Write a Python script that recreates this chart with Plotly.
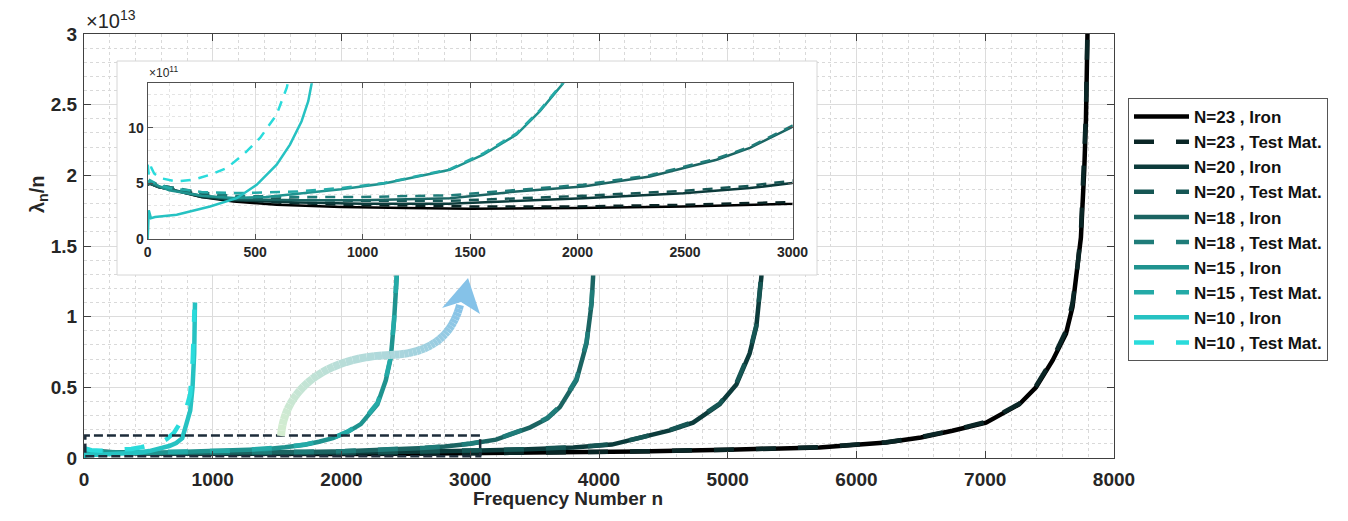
import plotly.graph_objects as go

# the page has an 8px body margin, so the figure is drawn from (8, 8)
OFF = 8
W, H = 1348 - 2 * OFF, 521 - 2 * OFF

# values are lambda_n / n in units of 1e11
n23_x = [0, 10, 50, 100, 250, 400, 600, 900, 1200, 1500, 2000, 2500, 3000, 3700, 4300, 5000, 5712,
         6230, 6500, 6745, 7006, 7265, 7394, 7523, 7627, 7678, 7717, 7743, 7769, 7782, 7794, 7800]
n23_iron = [4.9, 5.0, 4.7, 4.5, 3.8, 3.4, 3.1, 2.9, 2.8, 2.75, 2.8, 2.95, 3.2, 3.8, 4.6, 5.8, 7.5,
            11, 14.5, 19.3, 25, 38, 50, 69, 88, 107, 133, 156, 204, 239, 300, 330]
n23_test = [5.0, 5.1, 4.8, 4.6, 4.0, 3.6, 3.3, 3.1, 3.0, 2.95, 2.95, 3.1, 3.35, 3.9, 4.7, 5.9, 7.6,
            11.2, 14.8, 19.6, 25.5, 38.5, 51, 70, 90, 110, 136, 160, 208, 244, 305, 335]

n20_x = [0, 10, 50, 100, 250, 400, 700, 1000, 1400, 2026, 2492, 2802, 3000, 3400, 3800, 4100, 4342,
         4550, 4730, 4937, 5067, 5170, 5222, 5247, 5261, 5280, 5295]
n20_iron = [4.9, 5.0, 4.7, 4.5, 3.8, 3.5, 3.3, 3.2, 3.2, 3.69, 4.14, 4.6, 5.05, 6.0, 7.4, 9.5, 14.6,
            19.5, 25, 38, 52, 74, 93, 114, 128, 170, 230]
n20_test = [5.0, 5.2, 4.9, 4.7, 4.05, 3.75, 3.55, 3.45, 3.45, 3.9, 4.35, 4.8, 5.25, 6.2, 7.6, 9.7, 14.9,
            19.8, 25.5, 38.5, 53, 75, 94, 116, 130, 172, 232]

n18_x = [0, 10, 50, 100, 250, 400, 700, 1000, 1406, 1716, 2026, 2337, 2492, 2647, 2802, 3000, 3200,
         3466, 3600, 3696, 3825, 3903, 3942, 3954, 3970, 3985]
n18_iron = [4.9, 5.0, 4.7, 4.5, 3.9, 3.6, 3.5, 3.5, 3.69, 4.29, 4.74, 5.64, 6.4, 7.14, 8.2, 10.1, 13,
            21.7, 28, 36, 55, 81, 109, 128, 170, 230]
n18_test = [5.0, 5.2, 4.9, 4.7, 4.2, 3.9, 3.8, 3.8, 3.95, 4.45, 4.9, 5.75, 6.5, 7.25, 8.3, 10.2, 13.2,
            22, 28.5, 36.5, 56, 82, 110, 130, 172, 232]

n15_x = [0, 10, 50, 100, 250, 400, 550, 700, 900, 1100, 1250, 1406, 1561, 1716, 1825, 1933, 2050, 2150,
         2279, 2344, 2383, 2408, 2429, 2445, 2460]
n15_iron = [5.1, 5.2, 4.8, 4.4, 3.9, 3.7, 3.8, 4.1, 4.5, 5.0, 5.6, 6.24, 7.6, 9.4, 11.5, 14, 18.5, 24,
            38, 55, 71, 97, 128, 170, 230]
n15_test = [5.0, 5.3, 4.9, 4.6, 4.25, 4.15, 4.2, 4.3, 4.6, 5.05, 5.65, 6.3, 7.7, 9.5, 11.6, 14.1, 18.8, 24.5,
            39, 56, 72, 98, 130, 172, 232]

n10_iron_x = [0, 5, 15, 34, 135, 290, 414, 507, 600, 662, 716, 747, 763, 776, 800, 825, 843, 856, 862]
n10_iron = [0, 2.6, 1.9, 2.0, 2.2, 2.94, 3.69, 4.89, 6.69, 8.5, 10.6, 12.4, 14, 18, 25, 33.5, 50, 74, 110]
n10_test_x = [0, 5, 15, 30, 57, 135, 212, 290, 367, 445, 523, 600, 647, 700, 776, 825, 845, 858]
n10_test = [6.7, 5.8, 6.5, 5.9, 5.5, 5.19, 5.34, 5.79, 6.39, 7.6, 9.1, 11.2, 13.6, 18, 29, 45, 70, 105]

series = [
    ('N=23 , Iron', n23_x, n23_iron, '#000000', 'solid'),
    ('N=23 , Test Mat.', n23_x, n23_test, '#0a2626', 'dash'),
    ('N=20 , Iron', n20_x, n20_iron, '#0c3b3b', 'solid'),
    ('N=20 , Test Mat.', n20_x, n20_test, '#165654', 'dash'),
    ('N=18 , Iron', n18_x, n18_iron, '#1b6462', 'solid'),
    ('N=18 , Test Mat.', n18_x, n18_test, '#1f7c79', 'dash'),
    ('N=15 , Iron', n15_x, n15_iron, '#1f938f', 'solid'),
    ('N=15 , Test Mat.', n15_x, n15_test, '#24aaa7', 'dash'),
    ('N=10 , Iron', n10_iron_x, n10_iron, '#26c2c2', 'solid'),
    ('N=10 , Test Mat.', n10_test_x, n10_test, '#2adbdb', 'dash'),
]

fig = go.Figure()

# main plot (y in units of 1e13)
for name, xs, vs, color, dash in series:
    fig.add_trace(go.Scatter(
        x=xs, y=[v / 100 for v in vs], name=name, mode='lines',
        line=dict(color=color, width=4.5, dash='20px,22px' if dash == 'dash' else 'solid'),
        xaxis='x', yaxis='y', hoverinfo='skip'))

# white frame behind the inset
fig.add_trace(go.Scatter(
    x=[0, 1, 1, 0, 0], y=[0, 0, 1, 1, 0], fill='toself', fillcolor='white',
    mode='lines', line=dict(width=0), showlegend=False, hoverinfo='skip',
    xaxis='x2', yaxis='y2'))

# inset (y in units of 1e11)
for name, xs, vs, color, dash in series:
    fig.add_trace(go.Scatter(
        x=xs, y=vs, name=name, mode='lines', showlegend=False,
        line=dict(color=color, width=2.5, dash='10px,8px' if dash == 'dash' else 'solid'),
        xaxis='x3', yaxis='y3', hoverinfo='skip'))


def px(x, y):
    # screen pixel -> paper fraction
    return (x - OFF) / W, 1 - (y - OFF) / H


def dom_x(a, b):
    return [px(a, 0)[0], px(b, 0)[0]]


def dom_y(bottom, top):
    return [px(0, bottom)[1], px(0, top)[1]]


tick_font = dict(family='Liberation Sans', size=19, color='#262626', weight='bold')
inset_font = dict(family='Liberation Sans', size=14, color='#262626', weight='bold')

fig.update_layout(
    width=W, height=H,
    margin=dict(l=0, r=0, t=0, b=0, autoexpand=False),
    paper_bgcolor='white', plot_bgcolor='white',
    showlegend=True,
    legend=dict(x=px(1128, 98)[0], y=px(1128, 98)[1], xanchor='left', yanchor='top',
                bgcolor='white', bordercolor='#555555', borderwidth=1,
                font=dict(family='Liberation Sans', size=17, color='#111111', weight='bold'),
                itemwidth=55, tracegroupgap=0),
    xaxis=dict(domain=dom_x(84, 1114), range=[0, 8000], tick0=0, dtick=1000, automargin=False,
               showline=True, mirror='ticks', linecolor='#404040', linewidth=1,
               ticks='inside', ticklen=7, tickcolor='#404040', ticklabelstandoff=4,
               showgrid=True, gridcolor='#dcdcdc', zeroline=False, tickfont=tick_font,
               minor=dict(tick0=0, dtick=200, showgrid=True, gridcolor='#d9d9d9', griddash='dot'),
               anchor='y'),
    yaxis=dict(domain=dom_y(458, 34), range=[0, 3], tick0=0, dtick=0.5, automargin=False,
               showline=True, mirror='ticks', linecolor='#404040', linewidth=1,
               ticks='inside', ticklen=7, tickcolor='#404040', ticklabelstandoff=2,
               showgrid=True, gridcolor='#dcdcdc', zeroline=False, tickfont=tick_font,
               minor=dict(tick0=0, dtick=0.1, showgrid=True, gridcolor='#d9d9d9', griddash='dot'),
               anchor='x'),
    xaxis2=dict(domain=dom_x(117, 817), range=[0, 1], visible=False, fixedrange=True,
                automargin=False, anchor='y2'),
    yaxis2=dict(domain=dom_y(275, 61), range=[0, 1], visible=False, fixedrange=True,
                automargin=False, anchor='x2'),
    xaxis3=dict(domain=dom_x(147.7, 792.5), range=[0, 3000], tick0=0, dtick=500, automargin=False,
                showline=True, mirror='ticks', linecolor='#505050', linewidth=1,
                ticks='inside', ticklen=5, tickcolor='#505050',
                showgrid=True, gridcolor='#dedede', zeroline=False, tickfont=inset_font,
                minor=dict(tick0=0, dtick=100, showgrid=True, gridcolor='#e4e4e4', griddash='dot'),
                anchor='y3'),
    yaxis3=dict(domain=dom_y(239.3, 83.3), range=[0, 14], tickvals=[0, 5, 10], automargin=False,
                showline=True, mirror='ticks', linecolor='#505050', linewidth=1,
                ticks='inside', ticklen=5, tickcolor='#505050',
                showgrid=True, gridcolor='#dedede', zeroline=False, tickfont=inset_font,
                minor=dict(tick0=0, dtick=1, showgrid=True, gridcolor='#e4e4e4', griddash='dot'),
                anchor='x3'),
)

# frame border of the inset
fx0, fy0 = px(117, 275)
fx1, fy1 = px(817, 61)
fig.add_shape(type='rect', xref='paper', yref='paper', x0=fx0, y0=fy0, x1=fx1, y1=fy1,
              line=dict(color='#d6d6d6', width=1), layer='above')

# dashed zoom box on the main axes
fig.add_shape(type='rect', xref='x', yref='y', x0=10, y0=0.012, x1=3077, y1=0.16,
              line=dict(color='#1d2c3a', width=2.5, dash='9px,4px'), layer='above')

# curved gradient arrow (pixel control points of two cubic curves)
arrow_curves = [
    [(281, 436), (284, 390), (325, 357), (390, 355)],
    [(390, 355), (430, 354), (452, 336), (460, 305)],
]
c_start, c_end = (212, 237, 208), (133, 194, 232)


def bez(p, t):
    a, b, c, d = p
    return tuple((1 - t) ** 3 * a[i] + 3 * (1 - t) ** 2 * t * b[i] + 3 * (1 - t) * t ** 2 * c[i] + t ** 3 * d[i]
                 for i in range(2))


pts = []
steps = 24
for k, curve in enumerate(arrow_curves):
    for j in range(steps + (1 if k == len(arrow_curves) - 1 else 0)):
        pts.append(bez(curve, j / steps))
nseg = len(pts) - 1
for i in range(nseg):
    f = i / nseg
    col = 'rgb({},{},{})'.format(*[int(c_start[c] + (c_end[c] - c_start[c]) * f) for c in range(3)])
    (xa, ya), (xb, yb) = px(*pts[i]), px(*pts[i + 1])
    fig.add_shape(type='line', xref='paper', yref='paper', x0=xa, y0=ya, x1=xb, y1=yb,
                  line=dict(color=col, width=8), layer='above')

head = [(442, 308), (468, 278), (480, 314), (461, 302)]
path = 'M ' + ' L '.join('{:.5f},{:.5f}'.format(*px(*p)) for p in head) + ' Z'
fig.add_shape(type='path', xref='paper', yref='paper', path=path,
              fillcolor='rgb(133,194,232)', line=dict(width=0), layer='above')

# texts
ax, ay = px(84, 19)
fig.add_annotation(x=ax, y=ay, xref='paper', yref='paper', xanchor='left', yanchor='middle',
                   text='×10<sup>13</sup>', showarrow=False,
                   font=dict(family='Liberation Sans', size=20, color='#262626'))
ax, ay = px(147, 72)
fig.add_annotation(x=ax, y=ay, xref='paper', yref='paper', xanchor='left', yanchor='middle',
                   text='×10<sup>11</sup>', showarrow=False,
                   font=dict(family='Liberation Sans', size=12, color='#262626'))
ax, ay = px(568, 511)
fig.add_annotation(x=ax, y=ay, xref='paper', yref='paper', xanchor='center', yanchor='bottom',
                   text='Frequency Number n', showarrow=False,
                   font=dict(family='Liberation Sans', size=19, color='#262626', weight='bold'))
ax, ay = px(38, 195)
fig.add_annotation(x=ax, y=ay, xref='paper', yref='paper', xanchor='center', yanchor='middle',
                   text='λ<sub>n</sub>/n', showarrow=False, textangle=-90,
                   font=dict(family='Liberation Sans', size=20, color='#262626', weight='bold'))

fig.write_html('out.html')
